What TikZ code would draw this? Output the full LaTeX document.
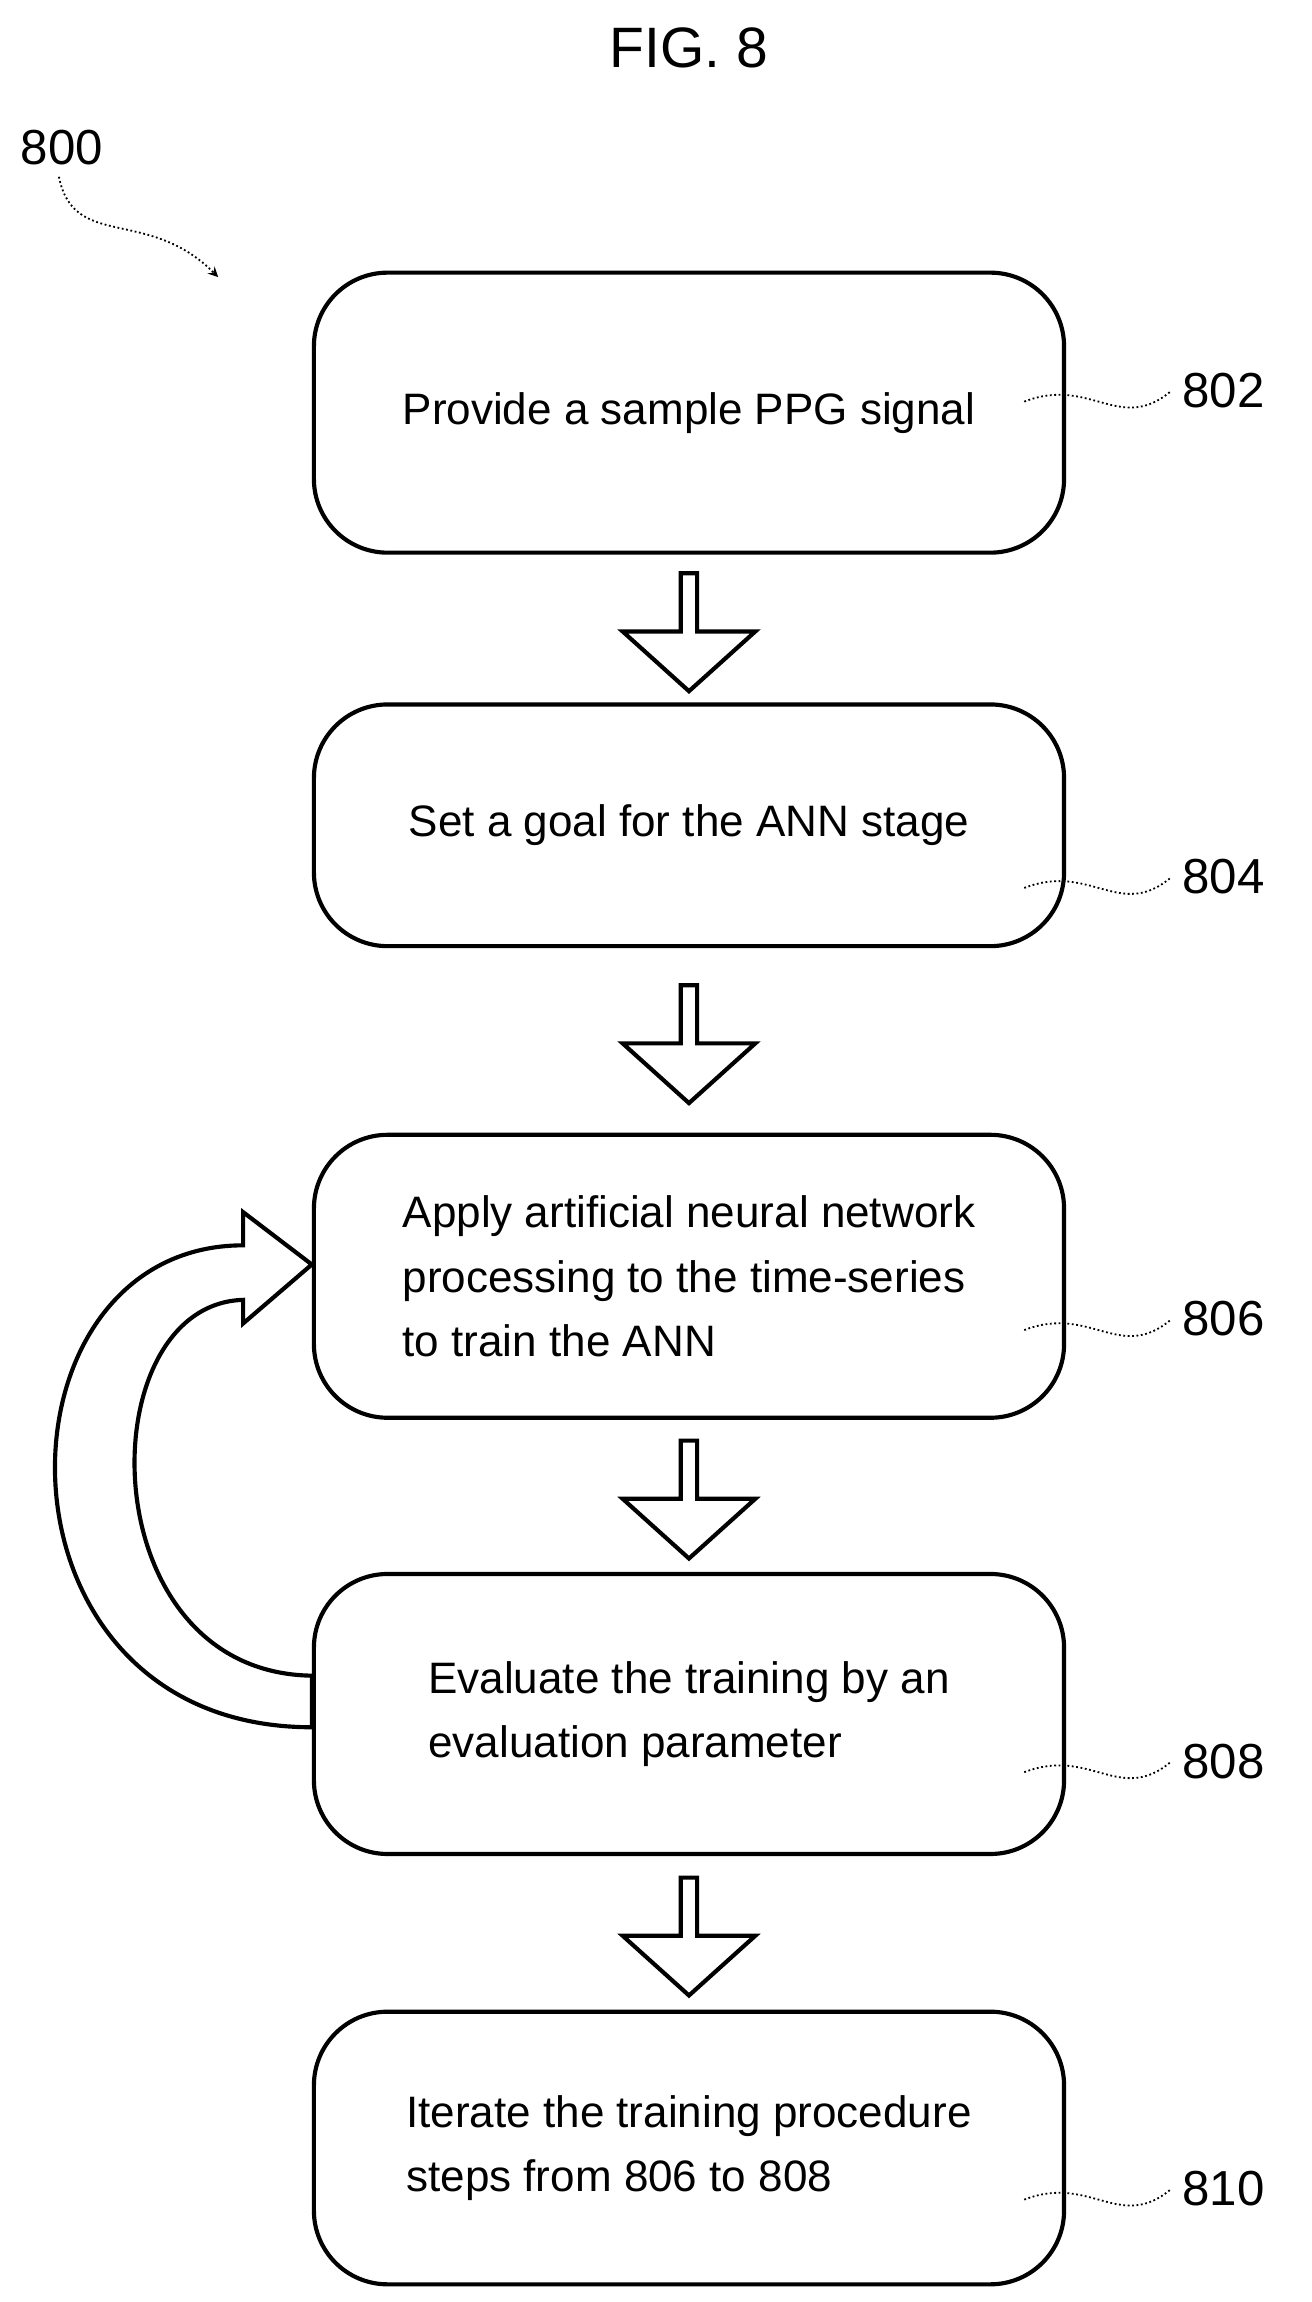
\documentclass[tikz,border=0pt]{standalone}
\usepackage{fontspec}
\setmainfont{Liberation Sans}
\usetikzlibrary{shapes.arrows, calc}

\begin{document}
\begin{tikzpicture}[
    x=1cm, y=-1cm, line width=1.6pt,
    stepbox/.style={draw, rounded corners=1cm, minimum width=10.18cm, align=left,
        font=\fontsize{17}{25}\selectfont},
    blockarrow/.style={draw, single arrow, rotate=-90, inner sep=0pt,
        minimum height=1.6cm, minimum width=1.8cm, single arrow head extend=0.2cm,
        single arrow tip angle=96},
    ref/.style={font=\fontsize{19}{22}\selectfont},
    squiggle/.style={line width=0.7pt, densely dotted}
]
    \useasboundingbox (0,0) rectangle (17.8,31.24);

    \node[font=\fontsize{22}{26}\selectfont] (fig) at (9.35,0.65) {FIG. 8};
    \node[ref] (n800) at (0.84,2.0) {800};
    \coordinate (p800) at (2.96,3.76);
    \draw[squiggle, ->, >=stealth] (0.8,2.4) .. controls (1.0,3.4) and (2.0,2.8) .. (p800);

    \node[stepbox, minimum height=3.8cm]  (b802) at (9.35,5.6)   {Provide a sample PPG signal};
    \node[stepbox, minimum height=3.28cm] (b804) at (9.35,11.2)  {Set a goal for the ANN stage};
    \node[stepbox, minimum height=3.84cm] (b806) at (9.35,17.32) {Apply artificial neural network\\processing to the time-series\\to train the ANN};
    \node[stepbox, minimum height=3.8cm]  (b808) at (9.35,23.26) {Evaluate the training by an\\evaluation parameter};
    \node[stepbox, minimum height=3.7cm]  (b810) at (9.35,29.15) {Iterate the training procedure\\steps from 806 to 808};

    \foreach \a/\b in {802/804, 804/806, 806/808, 808/810}
        \node[blockarrow] (a\a) at ($(b\a.south)!0.5!(b\b.north)$) {};

    % reference numerals
    \foreach \n/\y in {802/5.3, 804/11.9, 806/17.9, 808/23.9, 810/29.7} {
        \node[ref, anchor=west] (l\n) at (15.9,\y) {\n};
        \draw[squiggle] (13.9,\y+0.15) .. controls (14.8,\y-0.2) and (15.2,\y+0.6) .. (l\n.west);
    }

    % loop back arrow from 808 to 806
    \draw[fill=white] (b808.west |- 0,23.44)
        .. controls (-0.3,23.44) and (-0.2,16.9) .. (3.3,16.9)
        -- (3.3,16.45) -- (b806.west |- 0,17.16) -- (3.3,17.96) -- (3.3,17.64)
        .. controls (1.2,17.7) and (1.2,22.7) .. (b808.west |- 0,22.74) -- cycle;
\end{tikzpicture}
\end{document}
